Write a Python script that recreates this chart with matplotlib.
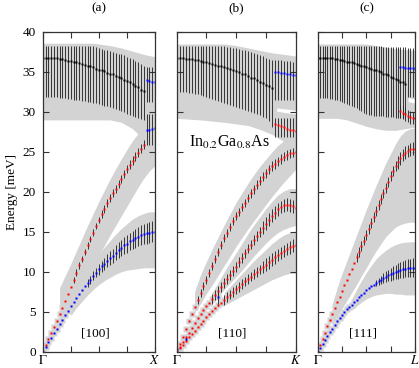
import numpy as np
import matplotlib.pyplot as plt

plt.rcParams['font.family'] = ['Liberation Serif', 'DejaVu Serif']
plt.rcParams['mathtext.fontset'] = 'stix'
plt.rcParams['font.size'] = 9.5

# wave-vector grid (fraction of the path Gamma -> zone boundary)
q = np.arange(41) * 0.025

# ---------------- (a) [100] ----------------
a_opt = [36.8, 36.8, 36.8, 36.7, 36.7, 36.7, 36.6, 36.6, 36.5, 36.4, 36.4, 36.3, 36.2,
         36.1, 36.0, 35.9, 35.8, 35.7, 35.6, 35.4, 35.3, 35.2, 35.1, 34.9, 34.8, 34.7,
         34.5, 34.4, 34.2, 34.0, 33.9, 33.7, 33.5, 33.3, 33.1, 32.8, 32.6]
a_opt_hi = [38.3] * 17 + [38.2, 38.2, 38.1, 38.0, 37.9, 37.8, 37.7, 37.6, 37.5, 37.4,
                          37.3, 37.2, 37.1, 36.9, 36.8, 36.6, 36.4, 36.2, 36.0, 35.8]
a_opt_lo = [31.9, 31.9, 31.9, 31.9, 31.9, 31.85, 31.8, 31.75, 31.7, 31.65, 31.6, 31.55,
            31.5, 31.45, 31.4, 31.35, 31.3, 31.2, 31.15, 31.1, 31.0, 30.9, 30.8, 30.7,
            30.6, 30.5, 30.35, 30.25, 30.1, 29.95, 29.8, 29.65, 29.5, 29.4, 29.25, 29.1, 29.0]
a_la = [0, 0.8, 1.6, 2.3, 3.1, 3.9, 4.7, 5.5, 6.3, 7.2, 8.1, 9.0, 9.9, 10.8, 11.6, 12.5,
        13.3, 14.1, 14.9, 15.7, 16.5, 17.2, 17.9, 18.6, 19.2, 19.8, 20.4, 21.0, 21.6,
        22.2, 22.8, 23.4, 23.9, 24.4, 24.9, 25.4, 25.9]
a_la_err = [0] * 11 + [0.4] * 10 + [0.5] * 10 + [0.6] * 6
a_ta = [0, 0.6, 1.2, 1.7, 2.3, 2.9, 3.5, 4.0, 4.6, 5.1, 5.7, 6.2, 6.7, 7.2, 7.7, 8.2, 8.6,
        9.0, 9.5, 9.9, 10.3, 10.7, 11.0, 11.4, 11.7, 12.0, 12.4, 12.7, 13.0, 13.3, 13.5,
        13.8, 14.0, 14.2, 14.4, 14.6, 14.7, 14.8, 14.9, 15.0, 15.0]
a_ta_err = [0] * 16 + [0.45, 0.5, 0.55, 0.6, 0.65, 0.7, 0.75, 0.8, 0.85, 0.9, 0.95, 1.0,
                       1.0, 1.05, 1.1, 1.1, 1.15, 1.2, 1.2, 1.25, 1.25, 1.3, 1.3, 1.3, 1.3]
a_edge_q = [0.925, 0.95, 0.975, 1.0]
a_edge_up = [34.0, 33.9, 33.8, 33.7]
a_edge_up_hi = [35.6, 35.6, 35.6, 35.6]
a_edge_up_lo = [31.2, 31.2, 31.2, 31.2]
a_edge_dn = [27.7, 27.8, 27.9, 28.0]
a_edge_dn_hi = [29.8, 29.8, 29.8, 29.8]
a_edge_dn_lo = [25.8, 25.8, 25.8, 25.8]

a_top_t = [0, 0.1, 0.2, 0.3, 0.4, 0.45, 0.5, 0.6, 0.7, 0.8, 0.9, 1.0]
a_top_hi = [38.6, 38.6, 38.6, 38.6, 38.6, 38.6, 38.5, 38.3, 38.0, 37.6, 37.2, 36.9]
a_top_lo = [29.0, 29.0, 29.0, 29.0, 29.0, 29.0, 29.0, 29.0, 28.7, 27.9, 26.5, 25.0]
a_laband_t = [0.15, 0.2, 0.25, 0.3, 0.35, 0.4, 0.45, 0.5, 0.55, 0.6, 0.65, 0.7, 0.75,
              0.8, 0.85, 0.9, 0.95, 1.0]
a_laband_lo = [4.6, 5.0, 5.8, 6.8, 8.0, 9.3, 10.7, 12.0, 13.3, 14.6, 15.8, 17.0, 18.2,
               19.4, 20.6, 21.7, 22.6, 23.3]
a_laband_hi = [8.0, 9.5, 11.0, 12.6, 14.2, 15.8, 17.3, 18.8, 20.2, 21.6, 22.9, 24.1,
               25.3, 26.4, 27.3, 28.0, 28.5, 29.0]
a_taband_t = [0.25, 0.3, 0.35, 0.4, 0.45, 0.5, 0.55, 0.6, 0.65, 0.7, 0.75, 0.8, 0.85,
              0.9, 0.95, 1.0]
a_taband_lo = [4.5, 5.5, 6.3, 7.1, 7.8, 8.4, 8.9, 9.3, 9.7, 10.0, 10.2, 10.3, 10.4,
               10.5, 10.5, 10.5]
a_taband_hi = [6.5, 8.0, 9.3, 10.5, 11.4, 12.2, 13.1, 13.9, 14.7, 15.4, 16.0, 16.6,
               17.0, 17.3, 17.5, 17.5]

# ---------------- (b) [110] ----------------
b_opt = [36.7, 36.7, 36.7, 36.6, 36.6, 36.6, 36.5, 36.5, 36.4, 36.3, 36.2, 36.1, 36.0,
         35.9, 35.8, 35.7, 35.6, 35.5, 35.4, 35.2, 35.1, 35.0, 34.8, 34.7, 34.5, 34.3,
         34.2, 34.0, 33.8, 33.6, 33.4, 33.2, 33.0]
b_opt_hi = [38.3] * 13 + [38.3, 38.25, 38.2, 38.2, 38.15, 38.1, 38.05, 38.0, 37.9, 37.8,
                          37.7, 37.6, 37.5, 37.4, 37.25, 37.1, 37.0, 36.8, 36.65, 36.5]
b_opt_lo = [32.5, 32.5, 32.45, 32.45, 32.4, 32.35, 32.3, 32.2, 32.1, 32.0, 31.9, 31.75,
            31.6, 31.5, 31.35, 31.25, 31.1, 31.0, 30.85, 30.75, 30.6, 30.5, 30.35, 30.25,
            30.1, 30.0, 29.85, 29.75, 29.6, 29.4, 29.2, 28.9, 28.1]
b_la = [0, 0.95, 1.9, 2.85, 3.8, 4.7, 5.6, 6.5, 7.4, 8.2, 9.0, 9.9, 10.7, 11.6, 12.5,
        13.4, 14.2, 14.9, 15.6, 16.3, 17.0, 17.5, 18.1, 18.6, 19.2, 19.8, 20.3, 20.9,
        21.4, 21.9, 22.3, 22.8, 23.2, 23.5, 23.8, 24.1, 24.4, 24.6, 24.8, 24.9, 25.0]
b_la_err = [0] * 7 + [0.5] * 18 + [0.6] * 16
b_ta2 = [0, 0.6, 1.2, 1.8, 2.4, 3.0, 3.6, 4.2, 4.7, 5.2, 5.7, 6.1, 6.6, 7.1, 7.6, 8.1,
         8.6, 9.1, 9.6, 10.1, 10.6, 11.2, 11.7, 12.3, 12.9, 13.4, 14.0, 14.5, 15.0, 15.5,
         16.0, 16.5, 17.0, 17.4, 17.8, 18.1, 18.3, 18.4, 18.3, 18.2, 18.0]
b_ta2_err = [0] * 12 + [0.6] * 17 + [0.8] * 12
b_ta1 = [0, 0.45, 0.9, 1.35, 1.8, 2.2, 2.65, 3.1, 3.5, 3.9, 4.3, 4.7, 5.1, 5.45, 5.8,
         6.15, 6.5, 6.85, 7.15, 7.5, 7.8, 8.1, 8.45, 8.8, 9.1, 9.4, 9.7, 10.0, 10.3, 10.6,
         10.9, 11.2, 11.5, 11.8, 12.1, 12.35, 12.6, 12.85, 13.05, 13.25, 13.4]
b_ta1_err = [0] * 16 + [0.6] * 13 + [0.8] * 12
b_blue_q = [0.0, 0.075, 0.35]
b_blue = [0.3, 1.6, 6.9]
b_blue_err = [0.0, 0.3, 1.2]
b_edge_q = [0.825, 0.85, 0.875, 0.9, 0.925, 0.95, 0.975, 1.0]
b_edge_up = [35.0, 34.95, 34.9, 34.85, 34.8, 34.7, 34.65, 34.6]
b_edge_up_hi = [36.5, 36.5, 36.45, 36.4, 36.4, 36.35, 36.3, 36.3]
b_edge_up_lo = [31.5, 31.5, 31.5, 31.5, 31.5, 31.5, 31.5, 31.5]
b_edge_dn = [28.5, 28.4, 28.3, 28.1, 27.9, 27.8, 27.7, 27.6]
b_edge_dn_hi = [29.3, 29.3, 29.3, 29.3, 29.3, 29.3, 29.3, 29.3]
b_edge_dn_lo = [26.9, 26.9, 26.9, 26.9, 26.9, 26.9, 26.9, 26.9]

b_top_t = [0, 0.2, 0.4, 0.5, 0.6, 0.7, 0.8, 0.9, 1.0]
b_top_hi = [38.5, 38.5, 38.5, 38.3, 38.0, 37.7, 37.4, 37.2, 37.0]
b_top_lo = [29.2, 29.0, 28.7, 28.5, 28.3, 27.8, 27.2, 26.3, 26.0]
b_gap_t = [0.84, 0.9, 0.95, 1.0]
b_gap_lo = [30.1, 29.95, 29.85, 29.75]
b_gap_hi = [30.5, 30.4, 30.3, 30.2]
b_laband_t = [0.15, 0.2, 0.25, 0.3, 0.35, 0.4, 0.45, 0.5, 0.55, 0.6, 0.65, 0.7, 0.75,
              0.8, 0.85, 0.9, 0.95, 1.0]
b_laband_lo = [4.9, 6.0, 7.3, 8.4, 9.6, 10.8, 12.0, 13.2, 14.3, 15.4, 16.4, 17.4, 18.4,
               19.4, 20.3, 21.2, 22.0, 22.8]
b_laband_hi = [7.5, 9.6, 11.3, 12.9, 14.4, 15.9, 17.3, 18.7, 19.9, 21.1, 22.2, 23.2,
               24.1, 25.0, 25.8, 26.4, 26.8, 27.0]
b_ta2band_t = [0.3, 0.35, 0.4, 0.45, 0.5, 0.55, 0.6, 0.65, 0.7, 0.75, 0.8, 0.85, 0.9,
               0.95, 1.0]
b_ta2band_lo = [6.0, 6.9, 7.8, 8.6, 9.4, 10.2, 11.1, 12.0, 12.8, 13.6, 14.3, 14.9, 15.3,
                15.6, 15.8]
b_ta2band_hi = [7.4, 8.7, 10.0, 11.2, 12.4, 13.6, 14.8, 15.9, 16.9, 17.9, 18.8, 19.6,
                20.1, 20.4, 20.4]
b_ta1band_t = [0.4, 0.45, 0.5, 0.55, 0.6, 0.65, 0.7, 0.75, 0.8, 0.85, 0.9, 0.95, 1.0]
b_ta1band_lo = [5.8, 6.2, 6.6, 7.0, 7.4, 7.8, 8.2, 8.6, 9.0, 9.3, 9.6, 9.8, 9.8]
b_ta1band_hi = [7.4, 8.2, 9.0, 9.8, 10.6, 11.4, 12.1, 12.8, 13.5, 14.1, 14.6, 14.9, 15.1]

# ---------------- (c) [111] ----------------
c_opt = [36.8, 36.8, 36.8, 36.7, 36.7, 36.7, 36.7, 36.6, 36.6, 36.5, 36.5, 36.4, 36.3,
         36.2, 36.2, 36.1, 36.0, 35.9, 35.8, 35.7, 35.6, 35.5, 35.4, 35.3, 35.2, 35.1,
         35.0, 34.8, 34.7, 34.6, 34.4, 34.3, 34.1, 34.0, 33.8, 33.7, 33.5]
c_opt_hi = [38.3] * 21 + [38.3, 38.25, 38.25, 38.2, 38.2, 38.2, 38.15, 38.15, 38.15,
                          38.1, 38.1, 38.1, 38.1, 38.1, 38.1, 38.1]
c_opt_lo = [31.7, 31.7, 31.7, 31.7, 31.7, 31.65, 31.6, 31.55, 31.5, 31.4, 31.25, 31.15,
            31.0, 30.9, 30.75, 30.65, 30.5, 30.3, 30.1, 29.9, 29.7, 29.65, 29.6, 29.55,
            29.5, 29.5, 29.45, 29.45, 29.4, 29.4, 29.35, 29.35, 29.3, 29.3, 29.25, 29.25, 29.2]
c_la = [0, 0.8, 1.6, 2.4, 3.2, 3.95, 4.7, 5.45, 6.2, 6.9, 7.6, 8.3, 9.0, 9.7, 10.4, 11.1,
        11.8, 12.5, 13.2, 13.9, 14.6, 15.35, 16.1, 16.85, 17.6, 18.35, 19.1, 19.8, 20.5,
        21.25, 22.0, 22.6, 23.2, 23.7, 24.2, 24.6, 24.9, 25.1, 25.3, 25.4, 25.4]
c_la_err = [0] * 16 + [0.6] * 17 + [0.8] * 8
c_ta = [0, 0.5, 1.0, 1.5, 2.0, 2.45, 2.9, 3.35, 3.8, 4.2, 4.6, 4.95, 5.3, 5.6, 5.9, 6.2,
        6.5, 6.8, 7.1, 7.4, 7.7, 7.95, 8.2, 8.4, 8.6, 8.8, 9.0, 9.2, 9.4, 9.55, 9.7, 9.85,
        10.0, 10.1, 10.2, 10.3, 10.4, 10.45, 10.5, 10.5, 10.5]
c_ta_err = [0] * 24 + [0.4, 0.45, 0.5, 0.6, 0.65, 0.7, 0.8, 0.85, 0.9, 0.95, 1.0, 1.05,
                       1.1, 1.1, 1.15, 1.2, 1.2]
c_edge_q = [0.85, 0.875, 0.9, 0.925, 0.95, 0.975, 1.0]
c_edge_up = [35.6, 35.6, 35.55, 35.5, 35.5, 35.45, 35.4]
c_edge_up_hi = [0, 0, 0, 38.0, 38.0, 38.0, 38.0]
c_edge_up_lo = [0, 0, 0, 31.9, 31.9, 31.9, 31.9]
c_edge_dn = [30.1, 29.9, 29.7, 29.5, 29.35, 29.25, 29.2]
c_edge_dn_err = [0.8, 0.8, 0.8, 0.8, 0.8, 0.8, 0.8]

c_top_t = [0, 0.2, 0.3, 0.4, 0.5, 0.6, 0.7, 0.8, 0.9, 1.0]
c_top_hi = [38.5, 38.5, 38.5, 38.5, 38.5, 38.3, 38.1, 37.9, 37.8, 37.7]
c_top_lo = [29.2, 29.2, 29.0, 28.6, 28.2, 27.9, 27.7, 27.7, 27.9, 28.1]
c_gap_t = [0.93, 0.96, 1.0]
c_gap_lo = [31.3, 31.2, 31.1]
c_gap_hi = [31.8, 31.7, 31.6]
c_laband_t = [0.15, 0.2, 0.25, 0.3, 0.35, 0.4, 0.45, 0.5, 0.55, 0.6, 0.65, 0.7, 0.75,
              0.8, 0.85, 0.9, 0.95, 1.0]
c_laband_lo = [3.6, 4.4, 5.4, 6.4, 7.4, 8.4, 9.5, 10.5, 11.6, 12.6, 13.5, 14.4, 15.0,
               15.6, 15.9, 16.1, 16.2, 16.2]
c_laband_hi = [6.0, 8.0, 9.8, 11.4, 13.0, 14.6, 16.2, 17.8, 19.3, 20.8, 22.2, 23.6,
               24.8, 26.0, 27.0, 27.6, 27.9, 28.0]
c_taband_t = [0.35, 0.4, 0.45, 0.5, 0.55, 0.6, 0.65, 0.7, 0.75, 0.8, 0.85, 0.9, 0.95, 1.0]
c_taband_lo = [5.2, 5.7, 6.2, 6.6, 6.9, 7.1, 7.2, 7.3, 7.3, 7.2, 7.2, 7.1, 7.1, 7.1]
c_taband_hi = [6.6, 7.8, 8.9, 9.9, 10.8, 11.6, 12.2, 12.7, 13.1, 13.4, 13.6, 13.7,
               13.75, 13.75]

GRAY = '#d3d3d3'
BAR = '#2a2a2a'


def band(ax, t, lo, hi, color=GRAY):
    ax.fill_between(t, lo, hi, color=color, lw=0, zorder=1)


def bars(ax, x, lo, hi):
    x, lo, hi = np.asarray(x), np.asarray(lo, float), np.asarray(hi, float)
    m = hi > lo
    ax.vlines(x[m], lo[m], hi[m], color=BAR, lw=0.65, zorder=3)


def branch(ax, x, e, err, color):
    x, e, err = np.asarray(x), np.asarray(e), np.asarray(err)
    ax.plot(x, e, 's', ms=4.2, color=GRAY, mec='none', zorder=2)
    bars(ax, x, e - err, e + err)
    ax.plot(x, e, 's', ms=1.9, color=color, mec='none', zorder=4)


def dots(ax, x, e, color):
    ax.plot(x, e, 's', ms=1.6, color=color, mec='none', zorder=4)


fig = plt.figure(figsize=(4.19, 3.68), dpi=100)
bottom, height = 16.3 / 368, 319.7 / 368
axa = fig.add_axes([42.7 / 419, bottom, 112.3 / 419, height])
axb = fig.add_axes([176.7 / 419, bottom, 119.0 / 419, height])
axc = fig.add_axes([317.7 / 419, bottom, 97.3 / 419, height])

# (a)
band(axa, a_top_t, a_top_lo, a_top_hi)
band(axa, a_laband_t, a_laband_lo, a_laband_hi)
band(axa, a_taband_t, a_taband_lo, a_taband_hi)
bars(axa, q[:37], a_opt_lo, a_opt_hi)
dots(axa, q[:37], a_opt, 'black')
branch(axa, q[:37], a_la, a_la_err, 'red')
branch(axa, q, a_ta, a_ta_err, 'blue')
bars(axa, a_edge_q, a_edge_up_lo, a_edge_up_hi)
bars(axa, a_edge_q, a_edge_dn_lo, a_edge_dn_hi)
dots(axa, a_edge_q, a_edge_up, 'blue')
dots(axa, a_edge_q, a_edge_dn, 'blue')

# (b)
band(axb, b_top_t, b_top_lo, b_top_hi)
band(axb, b_gap_t, b_gap_lo, b_gap_hi, color='white')
band(axb, b_laband_t, b_laband_lo, b_laband_hi)
band(axb, b_ta2band_t, b_ta2band_lo, b_ta2band_hi)
band(axb, b_ta1band_t, b_ta1band_lo, b_ta1band_hi)
bars(axb, q[:33], b_opt_lo, b_opt_hi)
dots(axb, q[:33], b_opt, 'black')
branch(axb, q, b_la, b_la_err, 'red')
branch(axb, q, b_ta2, b_ta2_err, 'red')
branch(axb, q, b_ta1, b_ta1_err, 'red')
branch(axb, b_blue_q, b_blue, b_blue_err, 'blue')
bars(axb, b_edge_q, b_edge_up_lo, b_edge_up_hi)
bars(axb, b_edge_q, b_edge_dn_lo, b_edge_dn_hi)
dots(axb, b_edge_q, b_edge_up, 'blue')
dots(axb, b_edge_q, b_edge_dn, 'red')
axb.text(0.1, 26.2, r'In$_{0.2}$Ga$_{0.8}$As', fontsize=11.5, ha='left', va='center')

# (c)
band(axc, c_top_t, c_top_lo, c_top_hi)
band(axc, c_gap_t, c_gap_lo, c_gap_hi, color='white')
band(axc, c_laband_t, c_laband_lo, c_laband_hi)
band(axc, c_taband_t, c_taband_lo, c_taband_hi)
bars(axc, q[:37], c_opt_lo, c_opt_hi)
dots(axc, q[:37], c_opt, 'black')
branch(axc, q, c_la, c_la_err, 'red')
branch(axc, q, c_ta, c_ta_err, 'blue')
bars(axc, c_edge_q, c_edge_up_lo, c_edge_up_hi)
dots(axc, c_edge_q, c_edge_up, 'blue')
branch(axc, c_edge_q, c_edge_dn, c_edge_dn_err, 'red')

labels = [('(a)', '[100]', r'$X$'), ('(b)', '[110]', r'$K$'), ('(c)', '[111]', r'$L$')]
for ax, (tag, direc, end) in zip([axa, axb, axc], labels):
    ax.set_xlim(0, 1)
    ax.set_ylim(0, 40)
    ax.set_xticks([0, 0.25, 0.5, 0.75, 1])
    ax.set_xticklabels([r'$\Gamma$', '', '', '', end])
    ax.set_yticks(range(0, 41, 5))
    ax.tick_params(direction='in', top=True, right=True, length=4, width=0.8,
                   color='#333333')
    ax.tick_params(axis='x', pad=1.5)
    for s in ax.spines.values():
        s.set_linewidth(0.9)
        s.set_color('#333333')
        s.set_zorder(6)
    ax.text(0.5, 1.075, tag, transform=ax.transAxes, ha='center', va='center')
    ax.text(0.47, 2.3, direc, ha='center', va='center')
axa.tick_params(axis='y', pad=5)
for ax in [axb, axc]:
    ax.set_yticklabels([])
axa.set_ylabel('Energy [meV]', labelpad=3)

fig.savefig('out.png', dpi=100)
